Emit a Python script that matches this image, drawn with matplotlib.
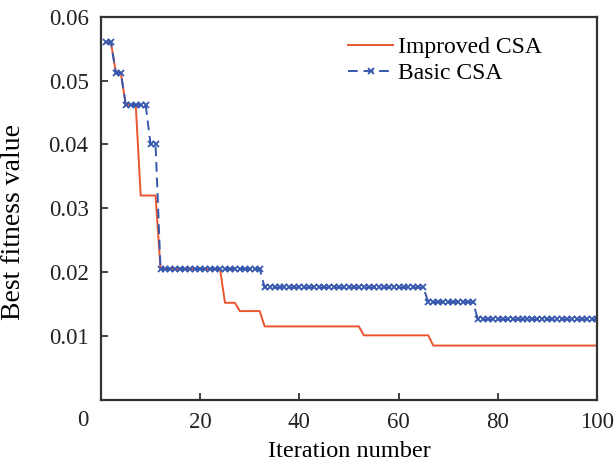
import matplotlib
matplotlib.use("Agg")
import matplotlib.pyplot as plt
import numpy as np

plt.rcParams["font.family"] = ["Liberation Serif", "DejaVu Serif"]

iterations = np.arange(1, 101)

# best fitness per iteration (constant runs)
improved_levels = [0.0560, 0.0512, 0.0462, 0.0320, 0.0205, 0.0152, 0.0139,
                   0.0115, 0.0101, 0.0085]
improved_counts = [2, 2, 3, 4, 13, 3, 5, 20, 14, 34]

basic_levels = [0.0560, 0.0512, 0.0462, 0.0400, 0.0205, 0.0176, 0.0153, 0.0126]
basic_counts = [2, 2, 5, 2, 21, 33, 10, 25]

improved = np.repeat(improved_levels, improved_counts)
basic = np.repeat(basic_levels, basic_counts)

fig = plt.figure(figsize=(6.16, 4.66), dpi=100)
ax = fig.add_axes([0.164, 0.142, 0.805, 0.822])

ax.plot(iterations, improved, color="#ea5530", linewidth=1.4, label="Improved CSA")
ax.plot(iterations, basic, color="#3557ae", linewidth=1.4, linestyle=(0, (5, 3)),
        marker="x", markersize=5, markeredgewidth=1.3, label="Basic CSA")

ax.set_xlim(0, 100)
ax.set_ylim(0, 0.06)
ax.set_xticks([0, 20, 40, 60, 80, 100])
ax.set_xticklabels(["", "20", "40", "60", "80", "100"])
ax.set_yticks([0.01, 0.02, 0.03, 0.04, 0.05, 0.06])
ax.set_yticklabels(["0.01", "0.02", "0.03", "0.04", "0.05", "0.06"])
ax.tick_params(direction="in", length=5, width=1.2, labelsize=16.5,
               colors="#222222", pad=9)
# shared origin label, set a little left of the corner as in the original
ax.annotate("0", xy=(0, 0), xytext=(-13, -7.5), textcoords="offset points",
            ha="center", va="top", fontsize=16.5, color="#222222")
for s in ax.spines.values():
    s.set_linewidth(1.6)
    s.set_color("#333333")

ax.set_xlabel("Iteration number", fontsize=17.5)
ax.xaxis.set_label_coords(0.5, -0.108)
ax.set_ylabel("Best fitness value", fontsize=20)
ax.yaxis.set_label_coords(-0.152, 0.465)

ax.legend(loc="upper right", bbox_to_anchor=(0.917, 0.985), frameon=False,
          fontsize=17, handlelength=1.9, handletextpad=0.2, labelspacing=0.2,
          borderaxespad=0.2)

fig.savefig("out.png", dpi=100)
plt.close(fig)
